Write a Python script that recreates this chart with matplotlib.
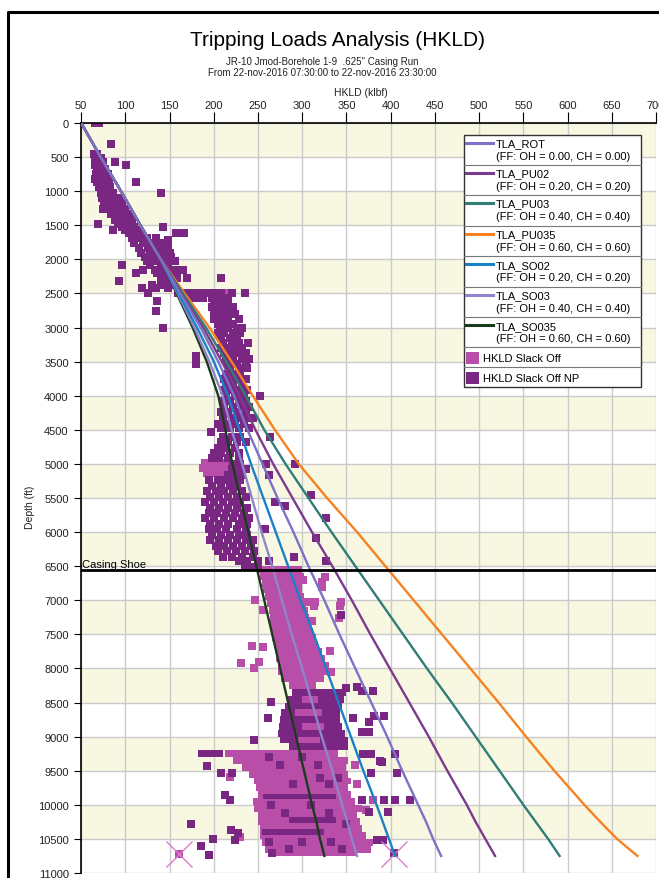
import numpy as np
import matplotlib
matplotlib.use('Agg')
import matplotlib.pyplot as plt
from matplotlib.lines import Line2D
from matplotlib.patches import Rectangle

plt.rcParams['font.family'] = ['Liberation Sans', 'DejaVu Sans']

# ---- model curves (HKLD in klbf vs depth in ft) ----
depth = [0, 500, 1000, 1500, 2000, 2500, 3000, 3500, 4000, 4500, 5000, 5500,
         6000, 6500, 7000, 7500, 8000, 8500, 9000, 9500, 10000, 10250, 10500, 10750]
tla_rot = [50, 72, 95, 117, 140, 162, 185, 205, 223, 238, 255, 272,
           290, 307, 325, 342, 360, 378, 396, 413, 431, 440, 448, 457]
tla_pu02 = [50, 72, 95, 117, 140, 163, 188, 209, 229, 247, 267, 289,
            311, 334, 356, 377, 399, 421, 443, 464, 486, 496, 507, 518]
tla_pu03 = [50, 72, 95, 117, 140, 165, 191, 214, 236, 257, 281, 307,
            333, 360, 387, 414, 441, 469, 496, 523, 550, 564, 578, 591]
tla_pu035 = [50, 72, 95, 117, 140, 167, 195, 220, 244, 269, 296, 328,
             362, 394, 426, 458, 490, 522, 553, 585, 619, 637, 656, 679]
tla_so02 = [50, 72, 95, 117, 140, 160, 181, 200, 216, 229, 242, 256,
            270, 284, 298, 313, 327, 341, 355, 369, 384, 391, 398, 405]
tla_so03 = [50, 72, 95, 117, 140, 159, 178, 195, 210, 220, 232, 243,
            254, 266, 277, 288, 300, 311, 322, 334, 345, 351, 356, 362]
tla_so035 = [50, 72, 95, 117, 140, 158, 176, 192, 205, 213, 221, 230,
             239, 248, 257, 266, 275, 284, 293, 302, 311, 316, 320, 325]

casing_shoe = 6560

# ---- measured hookload, slack off NP (dark purple), rows of (depth, [hkld]) ----
np_rows = [
    (0, [66, 70]), (310, [84]), (450, [64, 68]), (520, [66, 72]),
    (570, [70, 75, 88]), (610, [66, 73, 101]), (680, [68, 72, 77]),
    (750, [67, 71, 76, 80]), (820, [66, 70, 75, 82]), (870, [68, 74, 80, 112]),
    (940, [70, 78, 83]), (1020, [72, 80, 86, 140]), (1100, [74, 82, 88, 93]),
    (1180, [76, 85, 90, 96]), (1260, [75, 80, 88, 95, 100]),
    (1340, [84, 92, 98, 104]), (1420, [88, 95, 102, 108]),
    (1480, [69, 92, 100, 106]), (1530, [96, 104, 110, 142]),
    (1570, [86, 100, 108, 115]), (1620, [104, 112, 118, 157, 166]),
    (1690, [108, 116, 124, 135]), (1720, [148]),
    (1760, [110, 120, 128, 136, 144]), (1830, [115, 125, 132, 140, 148]),
    (1900, [118, 128, 136, 144, 150]), (1960, [122, 130, 138, 146, 152]),
    (2030, [124, 134, 142, 150, 156]), (2080, [96, 128, 140, 148]),
    (2150, [120, 133, 142, 152, 160, 165]), (2200, [112, 136, 145, 155]),
    (2270, [140, 150, 158, 170, 208]), (2320, [93, 145, 155]),
    (2380, [130, 140, 152]), (2420, [119, 135, 148]),
    (2490, [125, 160, 168, 176, 184, 192, 200, 208, 220, 235]),
    (2560, [172, 180, 188, 198, 206, 214]),
    (2610, [136, 200, 208, 216]), (2700, [198, 205, 213, 222]),
    (2750, [135, 200, 210, 220]), (2800, [203, 212, 224]),
    (2880, [200, 208, 216, 228]), (2950, [205, 213, 222]),
    (3010, [143, 207, 216, 226, 232]), (3080, [205, 212, 222, 230]),
    (3150, [208, 218, 226]), (3220, [210, 220, 228, 239]),
    (3300, [208, 216, 224, 232]), (3380, [212, 220, 230, 236]),
    (3410, [180]), (3460, [214, 222, 232, 240]),
    (3530, [180, 216, 226, 236]), (3600, [218, 228, 238]),
    (3680, [214, 222, 230]), (3760, [212, 220, 228, 236]),
    (3840, [214, 222, 232]), (3920, [212, 220, 228, 238]),
    (4010, [214, 224, 234, 252]), (4080, [210, 218, 228, 236]),
    (4160, [212, 222, 232, 240]), (4240, [208, 216, 226, 236]),
    (4320, [210, 220, 230, 238, 244]), (4410, [205, 214, 224, 234]),
    (4480, [208, 218, 228, 240]), (4530, [197]),
    (4600, [210, 220, 230, 263]), (4680, [208, 216, 226, 236]),
    (4760, [205, 214, 224]), (4840, [200, 208, 218, 228]),
    (4920, [198, 206, 216, 228]), (5000, [222, 230, 259, 292]),
    (5080, [220, 228, 236]), (5160, [216, 224, 232, 262]),
    (5240, [195, 205, 213, 222, 230]), (5320, [198, 208, 218, 226]),
    (5400, [192, 202, 212, 222, 232]), (5460, [310]),
    (5480, [196, 206, 216, 226, 236]), (5560, [190, 200, 210, 220, 230, 269]),
    (5610, [281]), (5640, [196, 206, 216, 226, 238]),
    (5720, [194, 204, 214, 224, 234]), (5790, [327]),
    (5800, [190, 200, 212, 222, 232, 240]), (5880, [196, 206, 216, 228, 238]),
    (5960, [194, 204, 214, 226, 236, 258]), (6040, [198, 208, 218, 228, 238]),
    (6080, [316]), (6120, [196, 206, 216, 226, 236, 244]),
    (6200, [202, 212, 222, 232, 242]), (6280, [205, 215, 225, 235, 245]),
    (6360, [210, 220, 232, 244, 291]), (6430, [228, 238, 250, 262, 327]),
    (6510, [235, 242, 250]),
    (7209, [344]), (8268, [362]), (8293, [349]), (8332, [368, 380]),
    (8488, [265]), (8693, [392]), (8698, [381]), (8732, [261, 357]),
    (8781, [376]), (8930, [367, 375]), (9050, [245]),
    (9250, [369, 378, 405]), (9362, [388]), (9377, [390]), (9432, [192]),
    (9538, [208, 220, 378, 407]), (9850, [213]),
    (9932, [218, 367, 392, 405, 422]), (10100, [376, 397]),
    (10288, [174]), (10371, [219]), (10420, [227]), (10508, [199]),
    (10520, [224, 385, 391]), (10605, [185]), (10708, [266, 404]),
    (10742, [194]),
    (9300, [262, 300]), (9420, [275, 318]), (9600, [320, 340]),
    (9700, [290, 330]), (10000, [265, 310]), (10120, [330, 280]),
    (10280, [350]), (10550, [262, 300, 332]), (10650, [345, 285]),
]

# dense parts of the NP cloud: (depth, left, right)
np_band_d = [8350, 8450, 8550, 8650, 8750, 8850, 8950, 9050, 9150, 9250]
np_band_l = [288, 284, 280, 276, 275, 274, 272, 275, 285, 182]
np_band_r = [350, 347, 345, 343, 343, 345, 348, 352, 352, 210]
np_streak_d = [9880, 10220, 10400]
np_streak_l = [256, 285, 255]
np_streak_r = [338, 338, 325]

# ---- measured hookload, slack off (pink) ----
so_rows = [
    (2491, [214]), (4980, [190, 198, 206, 214]), (5060, [188, 196, 204, 212]),
    (5140, [192, 200, 208]), (6657, [326]), (6705, [301]), (6730, [322]),
    (6803, [322]), (6998, [247]), (7023, [305, 314, 344]), (7081, [313, 343]),
    (7144, [256]), (7257, [342]), (7297, [311]), (7673, [243]),
    (7683, [256]), (7741, [331]), (7902, [251]), (7926, [231]),
    (8000, [245]), (8045, [333]), (9420, [360]), (9590, [218]),
    (9700, [362]), (9930, [380]), (10080, [372]), (10470, [230]),
    (10715, [161]),
]
so_band_d = [6550, 6650, 6750, 6850, 6950, 7050, 7150, 7250, 7350, 7450,
             7550, 7650, 7750, 7850, 7950, 8050, 8150, 8250,
             8450, 8650, 8850, 9050,
             9250, 9350, 9450, 9550, 9650, 9750, 9850, 9950, 10050, 10150,
             10250, 10350, 10450, 10550, 10650, 10700]
so_band_l = [250, 252, 254, 256, 258, 260, 262, 263, 264, 265,
             266, 268, 270, 270, 272, 273, 276, 285,
             300, 292, 300, 295,
             213, 222, 232, 240, 245, 248, 250, 244, 245, 250,
             250, 252, 252, 255, 258, 265]
so_band_r = [300, 302, 300, 300, 302, 304, 306, 308, 310, 312,
             316, 318, 322, 326, 330, 330, 325, 315,
             318, 322, 325, 320,
             340, 352, 350, 352, 355, 352, 355, 360, 368, 362,
             365, 368, 372, 380, 378, 362]

cross_x = [161, 404]
cross_d = [10715, 10715]

c_rot, c_pu02, c_pu03, c_pu035 = '#7a72c8', '#7b3a8c', '#2f7d74', '#f5821f'
c_so02, c_so03, c_so035 = '#1a80c8', '#8d86cc', '#1b3b1d'
c_so, c_np = '#b84ea7', '#7a2784'

W, H = 659, 879
fig = plt.figure(figsize=(W / 100, H / 100), dpi=100)


def fx(x):
    return x / W


def fy(y):
    return 1 - y / H


ax = fig.add_axes([fx(81.2), fy(874), (656 - 81.2) / W, 750 / H])

for d0 in range(0, 11000, 1000):
    ax.axhspan(d0, d0 + 500, color='#f8f7e2', lw=0, zorder=0)

ax.set_xlim(50, 700)
ax.set_ylim(11000, 0)
ax.set_xticks(np.arange(50, 701, 50))
ax.set_yticks(np.arange(0, 11001, 500))
ax.grid(color='#cbcbcb', lw=1)
ax.set_axisbelow(True)
ax.xaxis.tick_top()
for s in ['right', 'bottom']:
    ax.spines[s].set_visible(False)
for s in ['top', 'left']:
    ax.spines[s].set_color('black')
    ax.spines[s].set_linewidth(1.2)
ax.tick_params(axis='x', direction='out', length=8, pad=1, labelsize=8, labelcolor='#222')
ax.tick_params(axis='y', direction='out', length=5, pad=4, labelsize=8, labelcolor='#222')

# scatter clouds
npx = [x for d, xs in np_rows for x in xs]
npd = [d for d, xs in np_rows for x in xs]
sox = [x for d, xs in so_rows for x in xs]
sod = [d for d, xs in so_rows for x in xs]
ax.barh(np_band_d, np.subtract(np_band_r, np_band_l), left=np_band_l, height=100,
        color=c_np, lw=0, zorder=2)
ax.barh(so_band_d, np.subtract(so_band_r, so_band_l), left=so_band_l, height=100,
        color=c_so, lw=0, zorder=2.1)
ax.scatter(sox, sod, marker='s', s=26, color=c_so, lw=0, zorder=2.1)
ax.barh(np_streak_d, np.subtract(np_streak_r, np_streak_l), left=np_streak_l, height=80,
        color=c_np, lw=0, zorder=2.2)
ax.scatter(npx, npd, marker='s', s=26, color=c_np, lw=0, zorder=2.2)
ax.plot(cross_x, cross_d, 'x', ms=19, mew=1, color='#d77fcb', zorder=2.3)

# model lines
series = [
    ('TLA_ROT', tla_rot, c_rot, '0.00'),
    ('TLA_PU02', tla_pu02, c_pu02, '0.20'),
    ('TLA_PU03', tla_pu03, c_pu03, '0.40'),
    ('TLA_PU035', tla_pu035, c_pu035, '0.60'),
    ('TLA_SO02', tla_so02, c_so02, '0.20'),
    ('TLA_SO03', tla_so03, c_so03, '0.40'),
    ('TLA_SO035', tla_so035, c_so035, '0.60'),
]
for name, xs, col, ff in reversed(series):
    ax.plot(xs, depth, color=col, lw=1.7, zorder=4)

ax.axhline(casing_shoe, color='black', lw=2, zorder=5)
ax.text(51, casing_shoe - 25, 'Casing Shoe', fontsize=8, ha='left', va='bottom', zorder=5)

# titles and axis labels
fig.text(fx(338), fy(40), 'Tripping Loads Analysis (HKLD)', fontsize=15, ha='center', va='center')
fig.text(fx(322), fy(62), 'JR-10 Jmod-Borehole 1-9  .625" Casing Run', fontsize=7,
         ha='center', va='center', color='#222')
fig.text(fx(322), fy(73), 'From 22-nov-2016 07:30:00 to 22-nov-2016 23:30:00', fontsize=7,
         ha='center', va='center', color='#222')
fig.text(fx(361), fy(93), 'HKLD (klbf)', fontsize=7.5, ha='center', va='center', color='#222')
fig.text(fx(30), fy(507), 'Depth (ft)', fontsize=7.5, ha='center', va='center',
         rotation=90, color='#222')

# outer frame
fig.add_artist(Line2D([fx(8), fx(8), fx(W + 5)], [fy(H + 5), fy(13), fy(13)],
                      transform=fig.transFigure, color='black', lw=2.2))

# legend box
lx0, lx1, ly0, ly1 = 464, 641, 136, 388
fig.add_artist(Rectangle((fx(lx0), fy(ly1)), (lx1 - lx0) / W, (ly1 - ly0) / H,
                         transform=fig.transFigure, fc='white', ec='#333', lw=1, zorder=10))
tops = [136, 165.7, 196, 226.7, 257.3, 287.7, 318.3, 348.3, 368.3]
for t in tops[1:]:
    fig.add_artist(Line2D([fx(lx0), fx(lx1)], [fy(t), fy(t)], transform=fig.transFigure,
                          color='#777', lw=0.8, zorder=11))
for (name, xs, col, ff), t in zip(series, tops):
    fig.add_artist(Line2D([fx(466), fx(493)], [fy(t + 8), fy(t + 8)],
                          transform=fig.transFigure, color=col, lw=2.2, zorder=11))
    fig.text(fx(496), fy(t + 8.5), name, fontsize=8, va='center', ha='left', zorder=11)
    fig.text(fx(496), fy(t + 21), '(FF: OH = %s, CH = %s)' % (ff, ff), fontsize=8,
             va='center', ha='left', zorder=11)
for (name, col), t in zip([('HKLD Slack Off', c_so), ('HKLD Slack Off NP', c_np)], tops[7:]):
    fig.add_artist(Rectangle((fx(466), fy(t + 17)), 13 / W, 12 / H, transform=fig.transFigure,
                             fc=col, ec='none', zorder=11))
    fig.text(fx(483), fy(t + 10.5), name, fontsize=8, va='center', ha='left', zorder=11)

fig.savefig('out.png', dpi=100)
